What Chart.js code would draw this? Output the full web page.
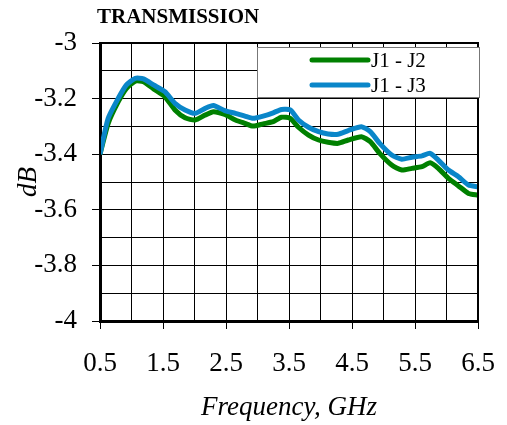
<!DOCTYPE html>
<html>
<head>
<meta charset="utf-8">
<script src="https://cdn.jsdelivr.net/npm/chart.js@4"></script>
<style>
  html, body { margin: 0; padding: 0; background: #fff; }
  #wrap { width: 507px; height: 425px; }
</style>
</head>
<body>
<div id="wrap"><canvas id="chartTx"></canvas></div>
<script>
// === Datos ===
const frecuencias = [0.5, 0.63, 0.79, 0.92, 1.06, 1.19, 1.35, 1.53, 1.69, 1.85, 2.01, 2.17, 2.30, 2.48, 2.65, 2.80, 2.93, 3.09, 3.25, 3.38, 3.52, 3.65, 3.81, 3.97, 4.12, 4.28, 4.44, 4.65, 4.79, 4.94, 5.13, 5.29, 5.45, 5.61, 5.74, 5.87, 6.03, 6.19, 6.35, 6.5];
const j1j2 = [-3.40, -3.289, -3.211, -3.163, -3.137, -3.139, -3.165, -3.193, -3.241, -3.269, -3.277, -3.259, -3.247, -3.257, -3.277, -3.289, -3.299, -3.291, -3.283, -3.267, -3.271, -3.303, -3.331, -3.349, -3.357, -3.361, -3.349, -3.337, -3.355, -3.397, -3.439, -3.457, -3.451, -3.445, -3.431, -3.451, -3.487, -3.514, -3.541, -3.547];
const j1j3 = [-3.40, -3.271, -3.199, -3.151, -3.127, -3.129, -3.151, -3.175, -3.217, -3.241, -3.253, -3.235, -3.225, -3.243, -3.253, -3.263, -3.271, -3.263, -3.251, -3.239, -3.241, -3.277, -3.303, -3.319, -3.327, -3.328, -3.315, -3.301, -3.319, -3.361, -3.403, -3.418, -3.411, -3.406, -3.397, -3.421, -3.457, -3.481, -3.511, -3.517];
const etiquetasX = [0.5, 1.5, 2.5, 3.5, 4.5, 5.5, 6.5];
const etiquetasY = [-3, -3.2, -3.4, -3.6, -3.8, -4];

const verde = "#008000";
const azul = "#0a86c9";
const serif = "'Liberation Serif', 'Times New Roman', serif";

const puntos = (ys) => frecuencias.map((x, i) => ({ x: x, y: ys[i] }));
const esEtiquetaX = (v) => etiquetasX.some(e => Math.abs(e - v) < 1e-6);
const esEtiquetaY = (v) => etiquetasY.some(e => Math.abs(e - v) < 1e-6);

// === Título y leyenda dibujados a mano ===
const extras = {
  id: "extras",
  afterDraw(chart) {
    const ctx = chart.ctx;
    const a = chart.chartArea;
    ctx.save();
    // título
    ctx.fillStyle = "#000";
    ctx.font = "bold 21px " + serif;
    ctx.textBaseline = "middle";
    ctx.textAlign = "left";
    ctx.fillText("TRANSMISSION", a.left - 3, 18);

    // marco superior / derecho
    ctx.strokeStyle = "#000";
    ctx.lineWidth = 2;
    ctx.strokeRect(a.left, a.top, a.right - a.left, a.bottom - a.top);

    // leyenda
    const x0 = a.left + 157, y0 = a.top + 4, x1 = a.right + 2, y1 = a.top + 55;
    ctx.fillStyle = "#fff";
    ctx.fillRect(x0, y0, x1 - x0, y1 - y0);
    ctx.strokeStyle = "#777";
    ctx.lineWidth = 1;
    ctx.strokeRect(x0 + 0.5, y0 + 0.5, x1 - x0 - 1, y1 - y0 - 1);
    const filas = [["J1 - J2", verde, y0 + 13], ["J1 - J3", azul, y0 + 38]];
    ctx.lineCap = "round";
    ctx.font = "21px " + serif;
    filas.forEach(([txt, col, y]) => {
      ctx.strokeStyle = col;
      ctx.lineWidth = 5;
      ctx.beginPath();
      ctx.moveTo(x0 + 55, y);
      ctx.lineTo(x0 + 111, y);
      ctx.stroke();
      ctx.fillStyle = "#000";
      ctx.fillText(txt, x0 + 114, y + 1);
    });
    ctx.restore();
  }
};

new Chart(document.getElementById("chartTx"), {
  type: "line",
  data: {
    datasets: [
      {
        label: "J1 - J2",
        data: puntos(j1j2),
        borderColor: verde,
        backgroundColor: verde,
        borderWidth: 5,
        pointRadius: 0,
        tension: 0.2,
        order: 2
      },
      {
        label: "J1 - J3",
        data: puntos(j1j3),
        borderColor: azul,
        backgroundColor: azul,
        borderWidth: 5,
        pointRadius: 0,
        tension: 0.2,
        order: 1
      }
    ]
  },
  options: {
    responsive: true,
    maintainAspectRatio: false,
    animation: false,
    layout: {
      padding: { top: 43, right: 29, bottom: 0, left: 0 }
    },
    plugins: {
      legend: { display: false },
      tooltip: { enabled: false }
    },
    scales: {
      x: {
        type: "linear",
        min: 0.5,
        max: 6.5,
        afterFit(s) {
          s.height = 104;
          s.paddingLeft = 0;
          s.paddingRight = 0;
        },
        ticks: {
          stepSize: 0.5,
          color: "#000",
          padding: 19,
          maxRotation: 0,
          autoSkip: false,
          font: { family: serif, size: 27 },
          callback: (v) => esEtiquetaX(v) ? v.toFixed(1) : ""
        },
        grid: {
          color: "#000",
          lineWidth: 1,
          tickLength: 8,
          tickColor: (c) => esEtiquetaX(c.tick.value) ? "#000" : "rgba(0,0,0,0)"
        },
        border: { color: "#000", width: 3 },
        title: {
          display: true,
          text: "Frequency, GHz",
          color: "#000",
          padding: { top: 0, bottom: 1 },
          font: { family: serif, size: 27, style: "italic" }
        }
      },
      y: {
        min: -4,
        max: -3,
        afterFit(s) { s.width = 100; },
        ticks: {
          stepSize: 0.1,
          color: "#000",
          padding: 15,
          autoSkip: false,
          font: { family: serif, size: 27 },
          callback: (v) => esEtiquetaY(v) ? String(Math.round(v * 10) / 10) : ""
        },
        grid: {
          color: "#000",
          lineWidth: 1,
          tickLength: 8,
          tickColor: (c) => esEtiquetaY(c.tick.value) ? "#000" : "rgba(0,0,0,0)"
        },
        border: { color: "#000", width: 3 },
        title: {
          display: true,
          text: "dB",
          color: "#000",
          padding: { top: 13, bottom: 0 },
          font: { family: serif, size: 27, style: "italic" }
        }
      }
    }
  },
  plugins: [extras]
});
</script>
</body>
</html>
